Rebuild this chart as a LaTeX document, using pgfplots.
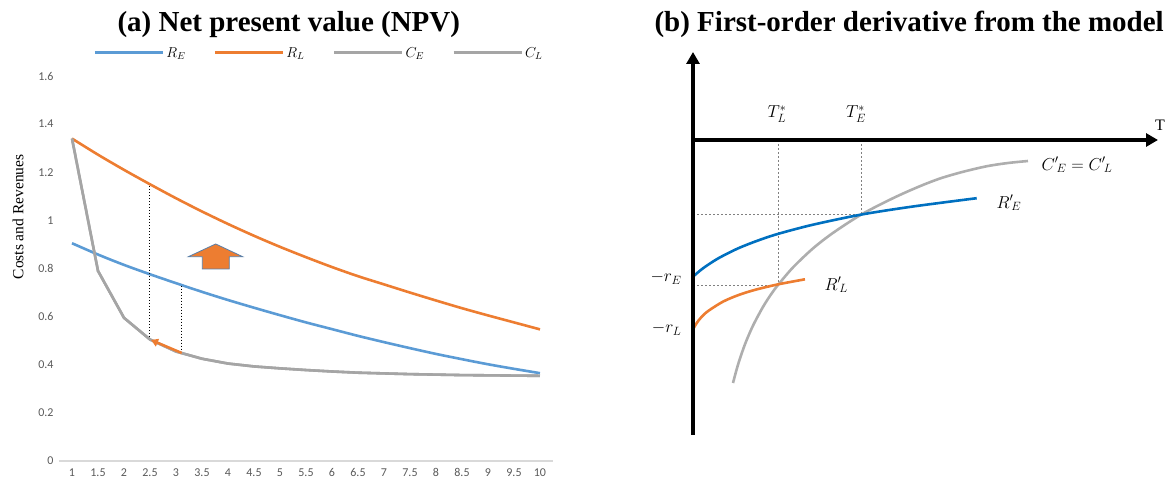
\documentclass[border=0pt]{standalone}
\usepackage{fontspec}
\setmainfont{Liberation Serif}
\setsansfont{Carlito}
\usepackage{pgfplots}
\pgfplotsset{compat=1.18}
\usetikzlibrary{arrows.meta}
\definecolor{cblue}{HTML}{5B9BD5}
\definecolor{corange}{HTML}{ED7D31}
\definecolor{cgray}{HTML}{A5A5A5}
\definecolor{dblue}{HTML}{0070C0}
\definecolor{ticktext}{HTML}{595959}
\definecolor{axisgray}{HTML}{D9D9D9}
\definecolor{arrowedge}{HTML}{5A7FA8}
\begin{document}
\begin{tikzpicture}[x=1pt,y=1pt]
% ---------------- panel (a)
\begin{axis}[
  at={(59pt,24pt)}, anchor=south west,
  scale only axis, width=494pt, height=385pt,
  xmin=0.75, xmax=10.25, ymin=0, ymax=1.6,
  axis lines=left, axis line style={-},
  y axis line style={draw=none},
  x axis line style={draw=axisgray, line width=1.2pt},
  xtick={1,1.5,2,2.5,3,3.5,4,4.5,5,5.5,6,6.5,7,7.5,8,8.5,9,9.5,10},
  ytick={0,0.2,0.4,0.6,0.8,1,1.2,1.4,1.6},
  major tick length=0pt,
  tick label style={font=\sffamily\fontsize{12}{14}\selectfont, text=ticktext},
  xticklabel style={yshift=-4pt},
  yticklabel style={xshift=-2pt},
  /pgf/number format/assume math mode=true,
  every axis y label/.style={at={(axis description cs:-0.083,0.634)}, rotate=90, anchor=center},
  ylabel={Costs and Revenues},
  ylabel style={font=\fontsize{15.5}{17}\selectfont},
  clip=false,
  legend columns=4,
  legend style={at={(axis description cs:0.069,1.06)}, anchor=west, draw=none, fill=none,
    inner sep=0pt, font=\fontsize{14}{16}\selectfont,
    /tikz/every even column/.append style={column sep=26pt}},
  legend image code/.code={\draw[#1, line width=3pt] (0pt,0pt) -- (68pt,0pt);},
]
\addplot[cblue, line width=2.6pt, smooth] coordinates {
(1,0.905) (1.5,0.858) (2,0.815) (2.5,0.776) (3,0.739) (3.5,0.703) (4,0.669) (4.5,0.637)
(5,0.606) (5.5,0.576) (6,0.548) (6.5,0.520) (7,0.494) (7.5,0.469) (8,0.445) (8.5,0.423)
(9,0.402) (9.5,0.383) (10,0.365)};
\addlegendentry{$R_E$}
\addplot[corange, line width=2.6pt, smooth] coordinates {
(1,1.34) (1.5,1.273) (2,1.210) (2.5,1.150) (3,1.092) (3.5,1.037) (4,0.985) (4.5,0.936)
(5,0.890) (5.5,0.847) (6,0.806) (6.5,0.768) (7,0.734) (7.5,0.700) (8,0.667) (8.5,0.635)
(9,0.605) (9.5,0.576) (10,0.547)};
\addlegendentry{$R_L$}
\addplot[cgray, line width=2.6pt] coordinates {
(1,1.34) (1.5,0.79) (2,0.595) (2.5,0.505) (3,0.455) (3.5,0.425) (4,0.405) (4.5,0.393)
(5,0.385) (5.5,0.378) (6,0.372) (6.5,0.367) (7,0.364) (7.5,0.361) (8,0.359) (8.5,0.357)
(9,0.356) (9.5,0.355) (10,0.354)};
\addlegendentry{$C_E$}
\addplot[cgray, line width=2.6pt] coordinates {
(1,1.34) (1.5,0.79) (2,0.595) (2.5,0.505) (3,0.455) (3.5,0.425) (4,0.405) (4.5,0.393)
(5,0.385) (5.5,0.378) (6,0.372) (6.5,0.367) (7,0.364) (7.5,0.361) (8,0.359) (8.5,0.357)
(9,0.356) (9.5,0.355) (10,0.354)};
\addlegendentry{$C_L$}
\draw[black, dash pattern=on 1.5pt off 1.5pt, line width=0.6pt] (axis cs:2.49,1.143) -- (axis cs:2.49,0.511);
\draw[black, dash pattern=on 1.5pt off 1.5pt, line width=0.6pt] (axis cs:3.11,0.729) -- (axis cs:3.11,0.449);
\draw[corange, line width=2.5pt, -{Triangle[length=7pt,width=8pt]}] (axis cs:3.11,0.449) -- (axis cs:2.52,0.503);
\filldraw[fill=corange, draw=arrowedge, line width=0.8pt]
  (axis cs:3.506,0.798) -- (axis cs:3.506,0.849) -- (axis cs:3.237,0.849) -- (axis cs:3.763,0.902)
  -- (axis cs:4.283,0.849) -- (axis cs:4.025,0.849) -- (axis cs:4.025,0.798) -- cycle;
\end{axis}
% ---------------- panel (b)
\begin{axis}[
  at={(600pt,0pt)}, anchor=south west,
  scale only axis, width=565pt, height=485pt,
  xmin=-93, xmax=472, ymin=-345, ymax=140,
  hide axis, clip=false,
]
\draw[gray, dash pattern=on 2pt off 2pt, line width=0.8pt] (axis cs:85,0) -- (axis cs:85,-145);
\draw[gray, dash pattern=on 2pt off 2pt, line width=0.8pt] (axis cs:168.7,0) -- (axis cs:168.7,-74.3);
\draw[gray, dash pattern=on 2pt off 2pt, line width=0.8pt] (axis cs:0,-74.3) -- (axis cs:168.7,-74.3);
\draw[gray, dash pattern=on 2pt off 2pt, line width=0.8pt] (axis cs:0,-145) -- (axis cs:85,-145);
\addplot[cgray!90!white, line width=2.6pt, smooth] coordinates {
(40,-243) (45,-224.7) (52,-204.2) (60,-185.6) (70,-166.9) (78,-154.4) (85,-145)
(100,-127.4) (120,-108.4) (140,-92.9) (168.7,-74.3) (200,-58.2) (225,-47.0) (247,-38.5)
(270,-31.8) (294,-26.2) (315,-23.0) (335,-21.0)};
\addplot[dblue, line width=2.6pt, smooth] coordinates {
(0,-136.7) (10,-128.3) (25,-118.5) (45,-108.4) (65,-100.5) (85.3,-93.8) (120,-84.7)
(168.7,-74.5) (220,-66.5) (283.7,-58.2)};
\addplot[corange, line width=2.6pt, smooth] coordinates {
(0,-189.3) (5.3,-180.8) (13.7,-172.1) (30.3,-161.5) (47,-154.5) (63.7,-149.4) (85.3,-144.3) (112,-139.3)};
\draw[black, line width=3.8pt, -{Triangle[length=12pt,width=13pt]}] (axis cs:-1.9,0) -- (axis cs:465,0);
\draw[black, line width=3.8pt, -{Triangle[length=12pt,width=13pt]}] (axis cs:0,-295) -- (axis cs:0,88);
\node[font=\fontsize{16}{18}\selectfont] at (axis cs:467,15) {T};
\node[font=\fontsize{17}{19}\selectfont] at (axis cs:84,26) {$T_L^*$};
\node[font=\fontsize{17}{19}\selectfont] at (axis cs:163,26) {$T_E^*$};
\node[anchor=west, font=\fontsize{17}{19}\selectfont] at (axis cs:345,-25) {${C'}_{\!E} = {C'}_{\!L}$};
\node[anchor=west, font=\fontsize{17}{19}\selectfont] at (axis cs:300,-63) {${R'}_{\!E}$};
\node[anchor=west, font=\fontsize{17}{19}\selectfont] at (axis cs:128,-145) {${R'}_{\!L}$};
\node[anchor=east, font=\fontsize{17}{19}\selectfont] at (axis cs:-8,-138) {$-r_E$};
\node[anchor=east, font=\fontsize{17}{19}\selectfont] at (axis cs:-8,-189) {$-r_L$};
\end{axis}
% titles
\node[anchor=base west, font=\bfseries\fontsize{29}{31}\selectfont] at (114,453) {(a) Net present value (NPV)};
\node[anchor=base west, font=\bfseries\fontsize{29}{31}\selectfont] at (651,453) {(b) First-order derivative from the model};
\pgfresetboundingbox
\path (0,0) rectangle (1165,485);
\end{tikzpicture}
\end{document}
